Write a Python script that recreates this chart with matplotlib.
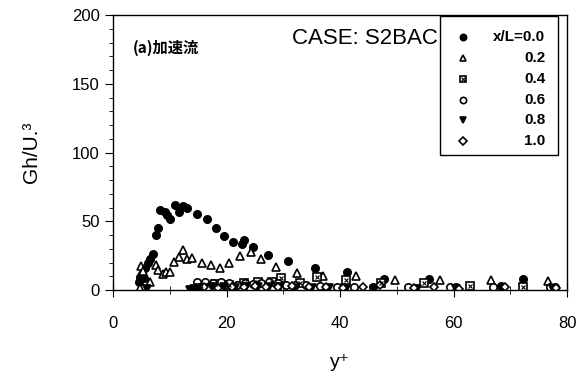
import matplotlib
matplotlib.use("Agg")
import matplotlib.pyplot as plt
from matplotlib.patches import Rectangle
from matplotlib.ticker import MultipleLocator

plt.rcParams["font.family"] = ["Liberation Sans", "DejaVu Sans", "Noto Sans CJK JP"]

# x/L = 0.0 (filled circles)
x00 = [4.5, 4.8, 5.1, 5.4, 5.7, 6.2, 6.5, 7.1, 7.6, 8.0, 8.3, 9.2, 9.6, 10.1, 10.9, 11.6,
       12.4, 13.1, 14.8, 16.5, 18.1, 19.6, 21.2, 22.7, 23.1, 24.7, 27.3, 30.8, 35.6,
       41.2, 47.8, 55.7, 60.5, 68.3, 72.2, 77.9]
y00 = [6.0, 9.7, 12.0, 8.5, 15.8, 19.4, 22.3, 26.2, 40.0, 44.8, 58.0, 57.0, 54.5, 52.0,
       61.8, 57.0, 61.0, 60.0, 55.3, 52.0, 45.3, 39.3, 35.2, 33.5, 36.4, 31.5, 25.5,
       21.3, 15.8, 12.8, 8.0, 8.0, 2.0, 3.1, 8.0, 2.4]

# x/L = 0.2 (open triangles)
x02 = [4.8, 4.9, 5.2, 6.5, 7.6, 8.0, 8.8, 9.4, 10.1, 10.7, 11.6, 12.3, 13.0, 13.9, 15.6,
       17.3, 18.9, 20.5, 22.3, 24.4, 26.0, 28.7, 32.4, 37.0, 42.8, 49.7, 57.6, 66.6, 76.6]
y02 = [1.2, 17.7, 14.0, 6.0, 18.2, 14.5, 12.0, 13.3, 13.3, 20.6, 24.2, 29.0, 22.5, 23.5,
       20.0, 18.2, 15.8, 19.4, 25.0, 27.9, 22.3, 17.0, 12.6, 10.4, 10.2, 7.3, 7.3, 7.3, 6.5]

# x/L = 0.4 (crossed squares)
x04 = [15.5, 18.0, 20.5, 23.0, 25.5, 28.0, 29.6, 33.0, 36.0, 41.0, 47.3, 54.8, 62.9, 72.3]
y04 = [3.0, 4.5, 4.0, 5.0, 5.5, 6.0, 8.5, 5.0, 9.7, 7.3, 5.3, 4.8, 2.9, 2.4]

# x/L = 0.6 (open circles)
x06 = [14.8, 16.2, 17.6, 19.0, 20.4, 21.8, 23.2, 24.6, 26.0, 27.5, 29.0, 30.5, 32.0,
       34.0, 36.5, 39.5, 42.5, 45.8, 52.0, 59.3, 67.0, 77.0]
y06 = [5.5, 6.0, 5.0, 6.0, 5.0, 4.0, 5.0, 4.5, 5.0, 6.0, 5.0, 4.0, 3.5, 4.0, 3.0, 2.5,
       2.0, 2.4, 2.4, 2.0, 2.5, 2.0]

# x/L = 0.8 (filled down triangles)
x08 = [6.0, 13.5, 14.3, 15.2, 16.1, 17.5, 19.5, 21.5, 23.5, 25.5, 27.5, 29.5, 32.0,
       35.0, 38.0, 41.0, 46.0, 53.5, 60.5, 68.5, 77.5]
y08 = [1.0, 0.3, 0.8, 1.2, 1.8, 2.0, 2.2, 1.8, 2.5, 2.0, 2.5, 2.0, 1.5, 1.5, 1.2, 1.0,
       1.0, 0.8, 0.5, 1.0, 0.8]

# x/L = 1.0 (open diamonds)
x10 = [16.0, 18.5, 21.0, 23.0, 25.0, 27.0, 29.0, 31.5, 34.5, 37.5, 40.5, 44.0, 47.0,
       53.0, 56.5, 61.0, 69.0, 78.0]
y10 = [2.0, 1.5, 2.5, 2.0, 3.0, 2.0, 2.5, 3.0, 2.0, 2.0, 1.5, 2.5, 3.5, 1.5, 2.0, 1.0,
       2.0, 1.5]

labels = ["x/L=0.0", "0.2", "0.4", "0.6", "0.8", "1.0"]

fig = plt.figure(figsize=(5.81, 3.80), dpi=100)
ax = fig.add_axes([0.1945, 0.2368, 0.7815, 0.7237])

ms = 5.3
mew = 1.2
styles = [
    dict(marker="o", ms=ms, mfc="black", mec="black"),
    dict(marker="^", ms=ms, mfc="white", mec="black"),
    dict(marker="s", ms=ms, mfc="white", mec="black"),
    dict(marker="o", ms=ms, mfc="white", mec="black"),
    dict(marker="v", ms=ms, mfc="black", mec="black"),
    dict(marker="D", ms=ms * 0.8, mfc="white", mec="black"),
]
series = [(x00, y00), (x02, y02), (x04, y04), (x06, y06), (x08, y08), (x10, y10)]
for (xs, ys), st in zip(series, styles):
    ax.plot(xs, ys, ls="none", mew=mew, **st)
# cross inside the 0.4 squares
ax.plot(x04, y04, "x", ms=ms * 0.6, color="black", mew=0.8, ls="none")

ax.set_xlim(0, 80)
ax.set_ylim(0, 200)
ax.xaxis.set_major_locator(MultipleLocator(20))
ax.xaxis.set_minor_locator(MultipleLocator(10))
ax.yaxis.set_major_locator(MultipleLocator(50))
ax.yaxis.set_minor_locator(MultipleLocator(10))
ax.tick_params(axis="x", which="both", direction="inout", labelsize=12, pad=14)
ax.tick_params(axis="x", which="major", length=10)
ax.tick_params(axis="x", which="minor", length=6)
ax.tick_params(axis="y", which="major", direction="out", length=6, labelsize=12)
ax.tick_params(axis="y", which="minor", direction="out", length=3)
for s in ax.spines.values():
    s.set_linewidth(1.0)

ax.set_xlabel("y⁺", fontsize=14, labelpad=16)
ax.set_ylabel("Gh/U.³", fontsize=15, labelpad=22)

ax.text(0.044, 0.88, "(a)加速流", transform=ax.transAxes, fontsize=11,
        fontweight="bold", va="center", family=["Noto Sans CJK JP", "DejaVu Sans"])
ax.text(0.715, 0.915, "CASE: S2BAC", transform=ax.transAxes, fontsize=16,
        ha="right", va="center")

# legend drawn by hand so that labels are right-aligned like the original
ax.add_patch(Rectangle((0.72, 0.49), 0.26, 0.506, transform=ax.transAxes,
                       fill=True, facecolor="white", edgecolor="black", lw=1.0,
                       zorder=5))
row_y = [0.92, 0.844, 0.766, 0.692, 0.618, 0.542]
for yy, lab, st in zip(row_y, labels, styles):
    st = dict(st)
    st["ms"] = st["ms"] * 0.85
    ax.plot([0.771], [yy], transform=ax.transAxes, ls="none", mew=mew,
            zorder=6, clip_on=False, **st)
    ax.text(0.952, yy, lab, transform=ax.transAxes, ha="right", va="center",
            fontsize=11, fontweight="bold", zorder=6)
ax.plot([0.771], [row_y[2]], "x", transform=ax.transAxes, ms=ms * 0.5,
        color="black", mew=0.8, zorder=7, clip_on=False)

fig.savefig("out.png", dpi=100)
